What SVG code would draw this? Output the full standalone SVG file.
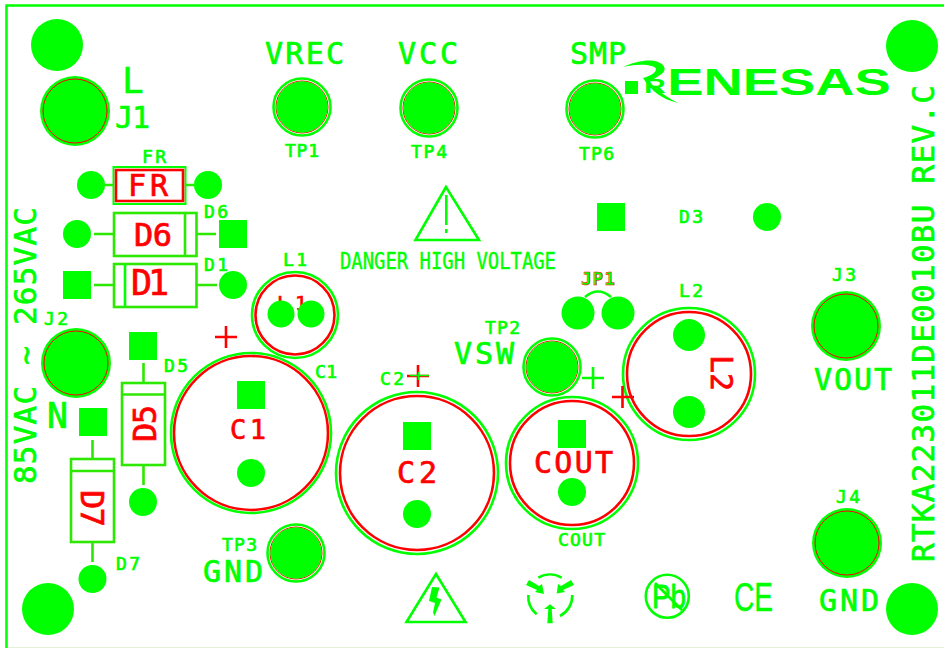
<svg xmlns="http://www.w3.org/2000/svg" width="944" height="648" viewBox="0 0 944 648">
<style>
text{font-family:"DejaVu Sans Mono","Liberation Mono",monospace}
.g{fill:#00ff00;stroke:#00ff00;stroke-width:.7}
.r{fill:#ff0000;stroke:#ff0000;stroke-width:.7}
.b{font-size:30px}.s{font-size:18px}.m{font-size:32px}.x{font-size:36px}
.p{fill:#00ff00}
.gl{fill:none;stroke:#00ff00;stroke-width:2.600}
.rl{fill:none;stroke:#ff0000;stroke-width:2.600}
.rt{fill:none;stroke:#ff0000;stroke-width:1}
.dl{fill:none;stroke:#2de800;stroke-width:2.600}
.ld{fill:none;stroke:#2de800;stroke-width:2.600}
.n{font-family:"Liberation Sans",sans-serif}
</style>
<rect width="944" height="648" fill="#fff"/>
<g id="board"><path d="M6.500 648V5.500H944" fill="none" stroke="#00ff00" stroke-width="2.500"/><path d="M8 647.500H944" stroke="#e2f2d8" stroke-width="1"/></g>
<g id="holes"><circle class="p" cx="57" cy="45" r="26"/><circle class="p" cx="912" cy="46" r="26"/><circle class="p" cx="48" cy="609" r="26"/><circle class="p" cx="912" cy="609" r="26"/></g>
<g id="connectors">
<path class="ld" d="M104 185H113M186 185H195M94 234H113M197 234H216M94 285H113M197 285H217M143.500 363V383M143.500 465V485M92.500 440V459M92.500 542V562"/>
<path class="gl" d="M585 297Q598 286 611 297"/>
</g>
<g id="J1"><circle class="p" cx="75" cy="111" r="35"/><circle class="rt" cx="75" cy="111" r="32"/><text class="g x" x="122" y="93">L</text><text class="g b" x="115" y="128" textLength="35">J1</text></g>
<g id="J2"><circle class="p" cx="76" cy="363" r="35"/><circle class="rt" cx="76" cy="363" r="32"/><text class="g s" x="44" y="325" textLength="24">J2</text><text class="g x" x="47" y="428" textLength="21" lengthAdjust="spacingAndGlyphs">N</text></g>
<g id="J3"><circle class="p" cx="846" cy="326" r="35"/><circle class="rt" cx="846" cy="326" r="32"/><text class="g s" x="832" y="281" textLength="24">J3</text><text class="g b" x="814" y="390" textLength="78">VOUT</text></g>
<g id="J4"><circle class="p" cx="847" cy="543" r="35"/><circle class="rt" cx="847" cy="543" r="32"/><text class="g s" x="836" y="503" textLength="24">J4</text><text class="g b" x="819" y="611" textLength="60">GND</text></g>
<g id="TP1"><circle class="gl" cx="302" cy="107" r="28.500"/><circle class="rt" cx="302" cy="107" r="26"/><circle class="p" cx="302" cy="107" r="25.700"/><text class="g b" x="265" y="64" textLength="79">VREC</text><text class="g s" x="285" y="157" textLength="34">TP1</text></g>
<g id="TP4"><circle class="gl" cx="429" cy="108" r="28.500"/><circle class="rt" cx="429" cy="108" r="26"/><circle class="p" cx="429" cy="108" r="25.700"/><text class="g b" x="398" y="64" textLength="60">VCC</text><text class="g s" x="411" y="158" textLength="36">TP4</text></g>
<g id="TP6"><circle class="gl" cx="595" cy="109" r="28.500"/><circle class="rt" cx="595" cy="109" r="26"/><circle class="p" cx="595" cy="109" r="25.700"/><text class="g b" x="570" y="64" textLength="56">SMP</text><text class="g s" x="579" y="160" textLength="35">TP6</text></g>
<g id="TP3"><circle class="gl" cx="296" cy="553" r="28.500"/><circle class="rt" cx="296" cy="553" r="26"/><circle class="p" cx="296" cy="553" r="25.700"/><text class="g s" x="222" y="551" textLength="35">TP3</text><text class="g b" x="203" y="582" textLength="60">GND</text></g>
<g id="TP2"><circle class="gl" cx="552" cy="367" r="28.500"/><circle class="rt" cx="552" cy="367" r="26"/><circle class="p" cx="552" cy="367" r="25.700"/><text class="g s" x="485" y="334" textLength="35">TP2</text><text class="g b" x="454" y="364" textLength="60">VSW</text></g>
<g id="FR"><rect x="113.500" y="167" width="72" height="37" fill="none" stroke="#00ff00" stroke-width="2"/><rect x="116" y="170" width="67" height="31" class="rl"/><circle class="p" cx="91" cy="185" r="14"/><circle class="p" cx="208" cy="185" r="14"/><text class="g s" x="142" y="163" textLength="24">FR</text><text class="r b" x="128" y="196" textLength="40">FR</text></g>
<g id="D6"><rect x="114" y="213" width="82.500" height="43" class="dl"/><path class="dl" d="M185 213V256"/><circle class="p" cx="77" cy="234" r="14"/><rect class="p" x="219" y="220" width="28" height="28"/><text class="g s" x="204" y="218" textLength="24">D6</text><text class="r m" x="134" y="246" textLength="38">D6</text></g>
<g id="D1"><rect x="114" y="264" width="82.500" height="43" class="dl"/><path class="gl" d="M125 264V307"/><rect class="p" x="63" y="271" width="28" height="28"/><circle class="p" cx="233" cy="285" r="14"/><text class="g s" x="204" y="271" textLength="24">D1</text><text class="r" x="131" y="295" textLength="38" style="font-size:35px">D1</text></g>
<g id="D5"><rect x="122" y="383" width="43" height="82" class="dl"/><path class="dl" d="M122 394.500H165"/><rect class="p" x="129" y="332" width="28" height="28"/><circle class="p" cx="143" cy="502" r="14"/><text class="g s" x="164" y="372" textLength="24">D5</text><text class="r m" transform="translate(156 442) rotate(-90)" textLength="37">D5</text></g>
<g id="D7"><rect x="71" y="459" width="43" height="83" class="dl"/><path class="dl" d="M71 471H114"/><rect class="p" x="79" y="408" width="28" height="28"/><circle class="p" cx="92.500" cy="579" r="14"/><text class="g s" x="116" y="570" textLength="24">D7</text><text class="r m" transform="translate(81 490) rotate(90)" textLength="37">D7</text></g>
<g id="L1"><circle class="gl" cx="295" cy="315" r="43"/><circle class="rl" cx="295" cy="315" r="39.500"/><text class="g s" x="283" y="266" textLength="24">L1</text><text class="r" style="font-size:20px" x="277" y="310" textLength="30">L1</text><circle class="p" cx="281" cy="314" r="13.500"/><circle class="p" cx="311" cy="314" r="13.500"/></g>
<g id="C1"><circle class="gl" cx="251" cy="433" r="80"/><circle class="rl" cx="251" cy="433" r="77"/><rect class="p" x="237" y="381" width="28" height="28"/><circle class="p" cx="251" cy="473" r="14"/><text class="r" style="font-size:27px" x="230" y="439" textLength="36">C1</text><text class="g s" x="315" y="378" textLength="22">C1</text><path class="rl" d="M215 337H237M226 326V348"/></g>
<g id="C2"><circle class="gl" cx="417" cy="473" r="81"/><circle class="rl" cx="417" cy="473" r="77"/><rect class="p" x="403" y="422" width="28" height="28"/><circle class="p" cx="417" cy="514" r="14"/><text class="r b" x="397" y="483" textLength="40">C2</text><text class="g s" x="380" y="385" textLength="24">C2</text><path class="rl" d="M407 376H429M418 365V387"/><path d="M410 375.500H429M418.500 372V380" stroke="#00ff00" stroke-width="1.400"/></g>
<g id="COUT"><circle class="gl" cx="572" cy="463" r="66"/><circle class="rl" cx="572" cy="463" r="62"/><rect class="p" x="558" y="420" width="28" height="28"/><circle class="p" cx="572" cy="492" r="14"/><text class="r b" x="534" y="473" textLength="79">COUT</text><text class="g s" x="558" y="546" textLength="47">COUT</text><path class="gl" d="M582 378H604M593 367V389"/></g>
<g id="L2"><circle class="gl" cx="689" cy="374" r="66"/><circle class="rl" cx="689" cy="374" r="62"/><circle class="p" cx="689" cy="335" r="16"/><circle class="p" cx="689" cy="412" r="16"/><text class="r b" transform="translate(711 355) rotate(90)" textLength="36">L2</text><text class="g s" x="679" y="297" textLength="24">L2</text><path class="rl" d="M612 397H634M622.500 386V408"/></g>
<g id="JP1"><circle class="p" cx="578" cy="313" r="16.500"/><circle class="p" cx="618" cy="313" r="16.500"/><text x="581" y="285" textLength="34" style="font-size:18px;font-weight:bold;fill:#00ff00;stroke:#ff0000;stroke-width:.5">JP1</text></g>
<g id="D3"><rect class="p" x="597" y="203" width="28" height="28"/><circle class="p" cx="767" cy="217" r="14"/><text class="g s" x="679" y="223" textLength="24">D3</text></g>
<g id="danger"><path d="M446 187L415.500 240H479Z" class="gl"/><path class="gl" d="M446.300 195V225M446.300 229V233"/><text class="g" style="font-size:23px;stroke-width:.4" x="340" y="269" textLength="216" lengthAdjust="spacingAndGlyphs">DANGER HIGH VOLTAGE</text></g>
<g id="logo"><rect class="p" x="625" y="81" width="13" height="13"/><path class="p" d="M623 67C636 61 650 59 658 62C666 65 667 71 660 75C656 78 652 80 649 81C655 88 664 96 678 103C662 99 652 92 643 78C650 76 656 73 656 69C655 65 640 63 623 67Z"/><text class="g n" style="font-size:36px;font-weight:bold;stroke-width:0" transform="translate(644 95) scale(1.51 1)"><tspan style="font-size:20px" dy="-2">R</tspan><tspan dy="2" dx="1">ENESAS</tspan></text></g>
<g id="edge-text"><text class="g" style="font-size:31px" transform="translate(36 484) rotate(-90)" textLength="277">85VAC ~ 265VAC</text><text class="g" style="font-size:31px" transform="translate(934 562) rotate(-90)" textLength="477">RTKA223011DE0010BU REV.C</text></g>
<g id="symbols">
<path class="gl" d="M436 574L406.500 622H465.500Z"/>
<path class="p" d="M432 587L439.500 587.500L436.500 597.500L441.500 599.500L434.500 616L433 612.500L435 603L429 601Z"/>
<path class="gl" d="M538.300 577.700A23 23 0 0 1 561.700 577.700M528.300 595A23 23 0 0 0 536.700 614.300M572.300 595A23 23 0 0 1 560 616"/>
<path class="p" d="M547.300 623.300H552.700L551.700 609H556L550 604.300L544 609H548.300ZM526 585L529 580L539 586L542 584L544 594L535 592L537 590ZM574 585L571 580L561 586L558 584L556.700 593.500L565 592L563 590Z"/>
<circle class="gl" cx="667.300" cy="596.300" r="21.500"/>
<text class="g n" style="font-size:34px;stroke-width:.8" x="652" y="608" textLength="34" lengthAdjust="spacingAndGlyphs">Pb</text>
<path class="gl" d="M655 583L682 610"/>
<text class="g n" style="font-size:40px;stroke-width:.4" x="734" y="611" textLength="39" lengthAdjust="spacingAndGlyphs">CE</text>
</g>
</svg>
